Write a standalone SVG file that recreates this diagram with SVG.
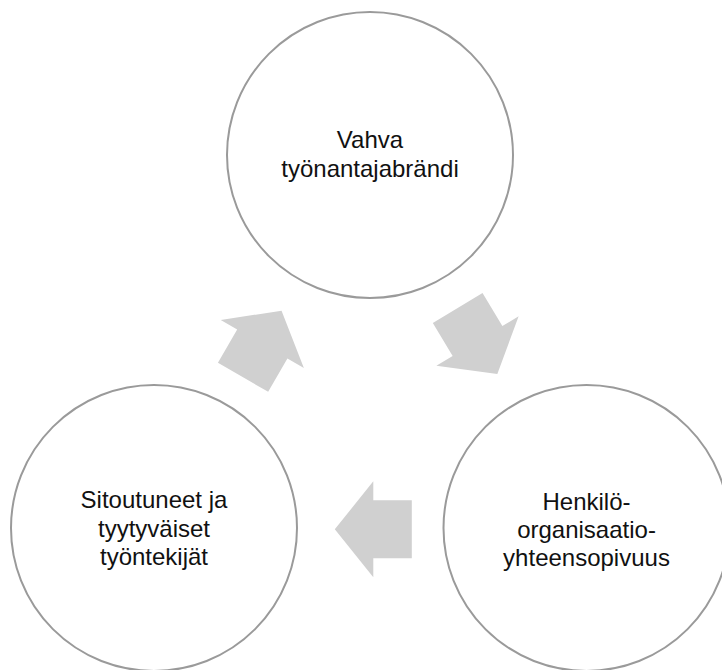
<svg xmlns="http://www.w3.org/2000/svg" width="722" height="670" viewBox="0 0 722 670">
  <defs>
    <style>
      .node circle { fill: #ffffff; stroke: #9a9a9a; stroke-width: 2; }
      .node text { font-family: "Liberation Sans", Arial, sans-serif; font-size: 24px; fill: #111111; text-anchor: middle; }
      .arrow { fill: #d0d0d0; stroke: none; }
    </style>
    <!-- block arrow pointing right, centred on the origin -->
    <polygon id="blockArrow" points="-38.5,-29 0,-29 0,-48 38.5,0 0,48 0,29 -38.5,29"/>
  </defs>
  <rect width="722" height="670" fill="#ffffff"/>

  <g id="node-top" class="node">
    <circle cx="370" cy="155" r="143"/>
    <text x="370" y="148">Vahva</text>
    <text x="370" y="177">työnantajabrändi</text>
  </g>

  <g id="node-right" class="node">
    <circle cx="586.5" cy="528" r="143"/>
    <text x="586.5" y="510">Henkilö-</text>
    <text x="586.5" y="538">organisaatio-</text>
    <text x="586.5" y="566">yhteensopivuus</text>
  </g>

  <g id="node-left" class="node">
    <circle cx="154" cy="528" r="143"/>
    <text x="154" y="508">Sitoutuneet ja</text>
    <text x="154" y="537">tyytyväiset</text>
    <text x="154" y="565">työntekijät</text>
  </g>

  <g id="connectors">
    <use href="#blockArrow" class="arrow" transform="translate(477.5 341) rotate(59)"/>
    <use href="#blockArrow" class="arrow" transform="translate(373.3 529.3) rotate(180)"/>
    <use href="#blockArrow" class="arrow" transform="translate(262.3 344) rotate(-60)"/>
  </g>
</svg>
